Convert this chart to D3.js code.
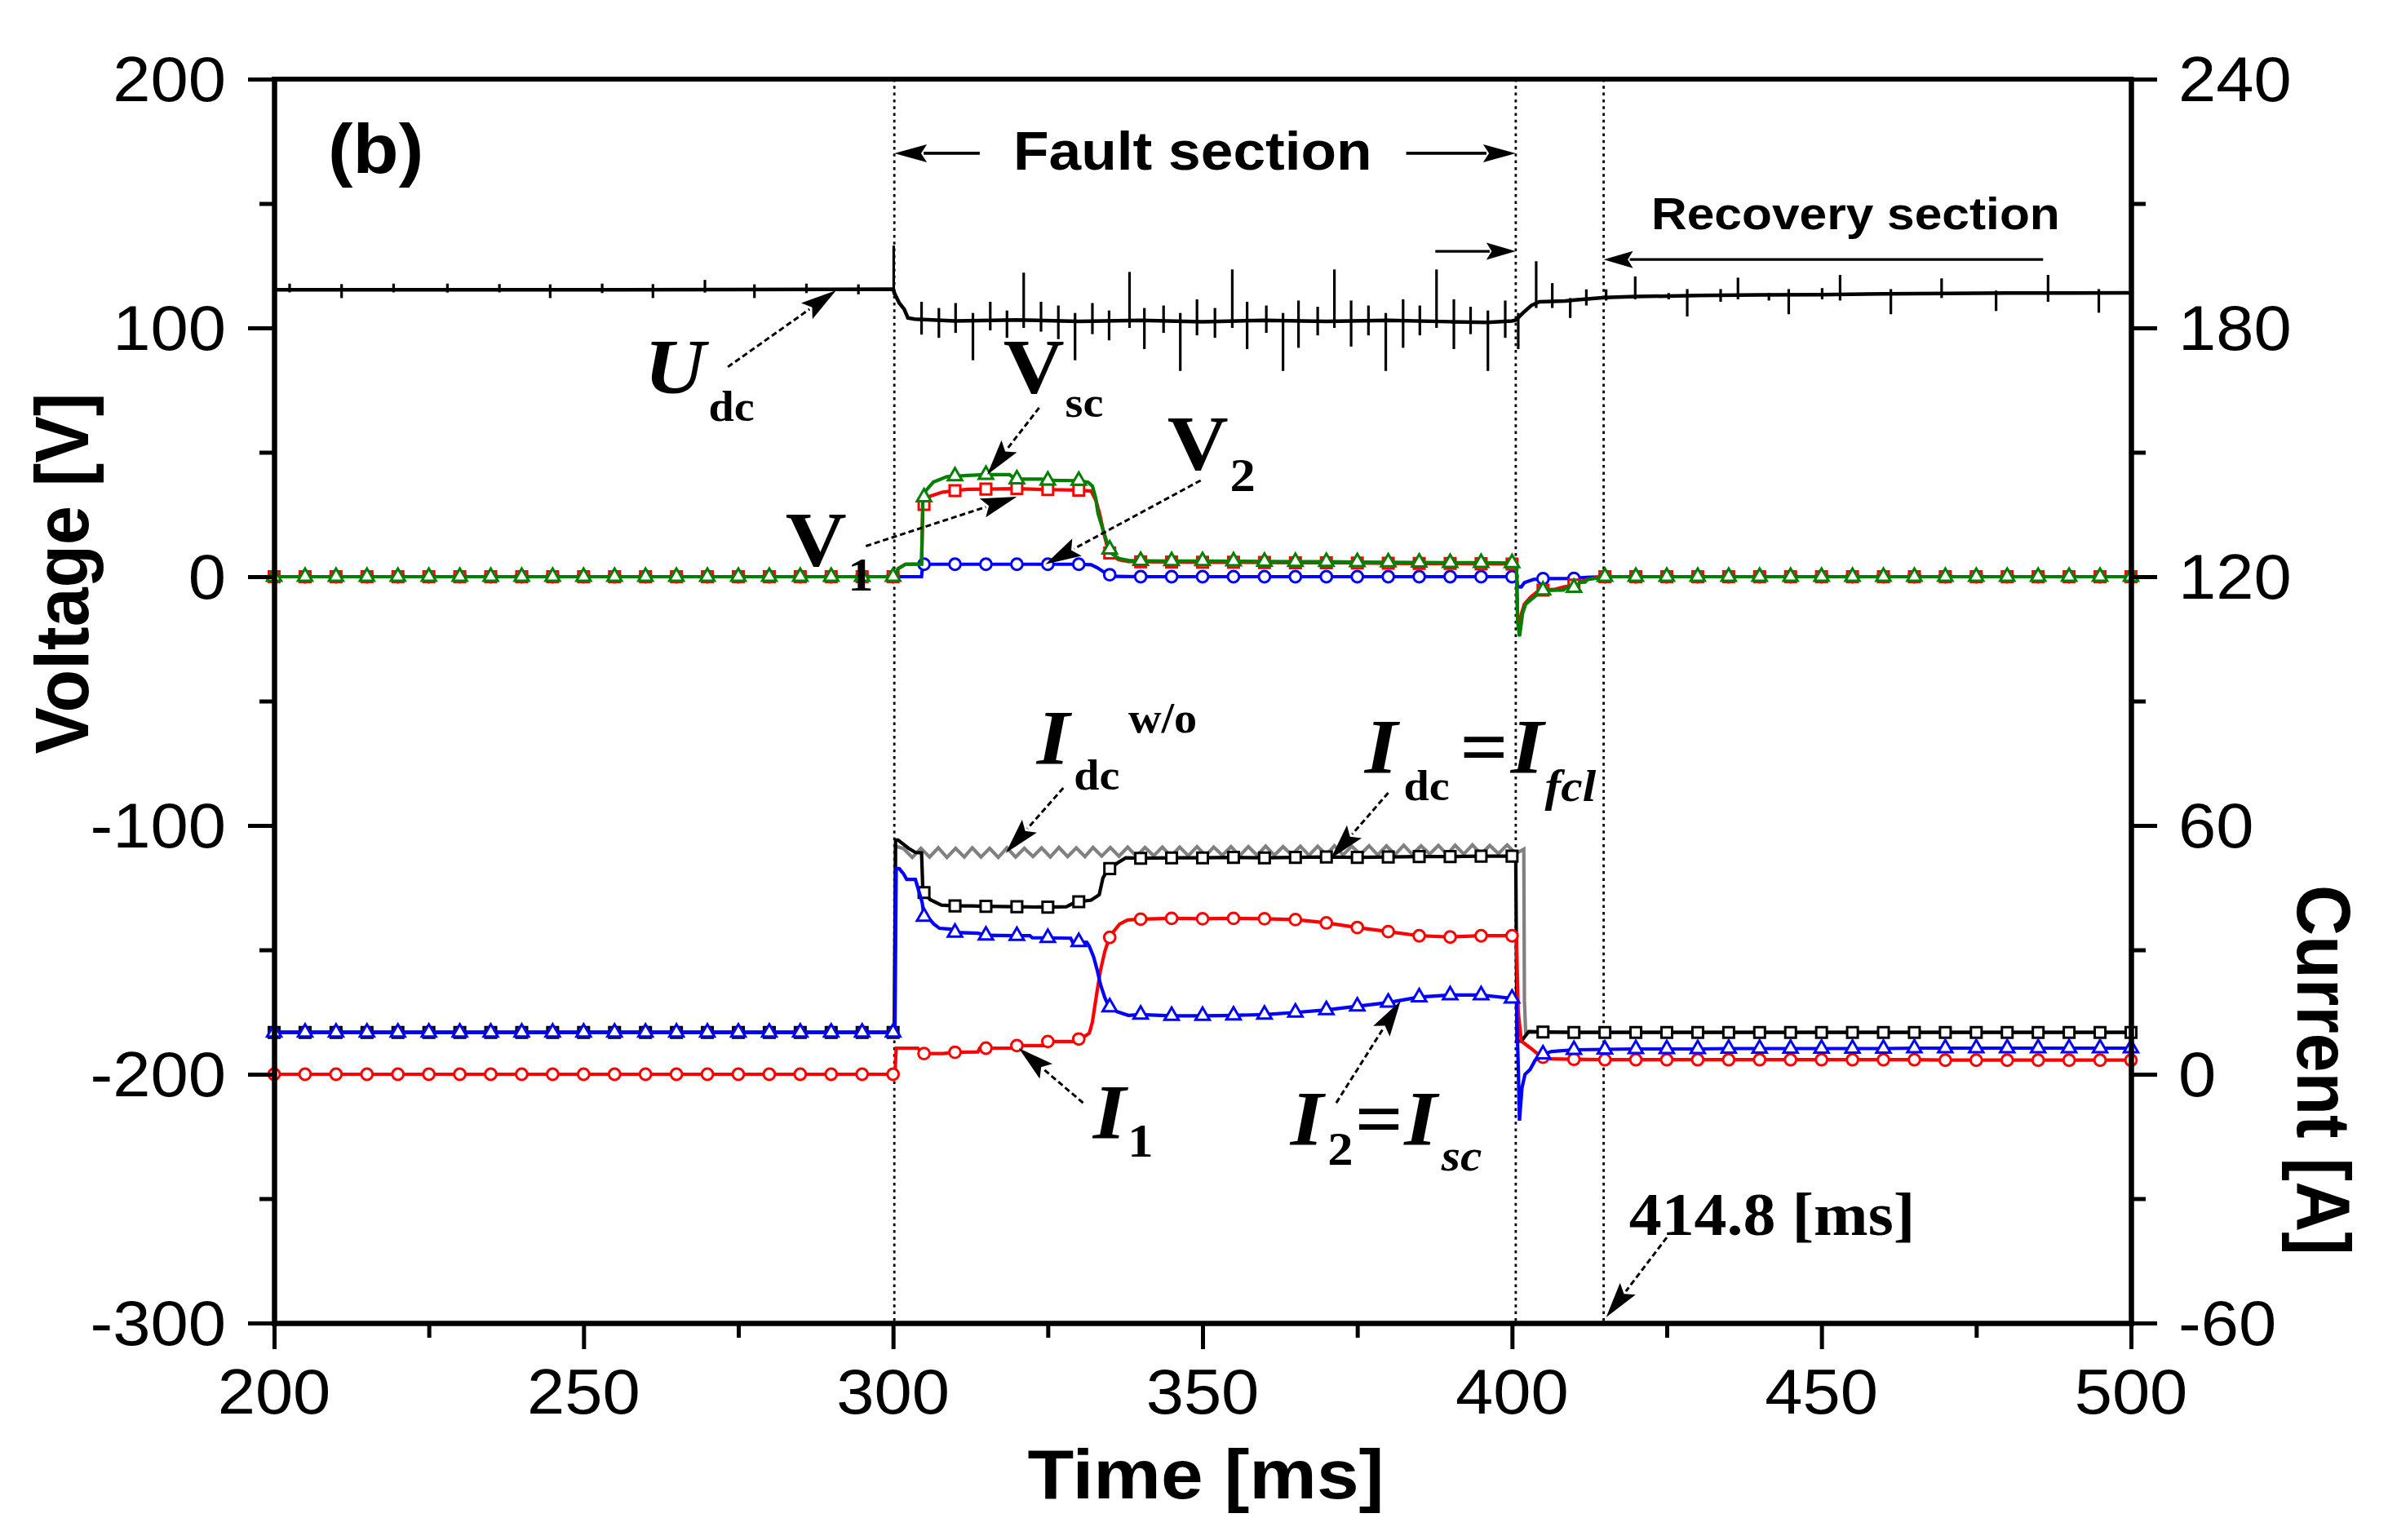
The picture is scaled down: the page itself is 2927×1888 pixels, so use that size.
<!DOCTYPE html>
<html><head><meta charset="utf-8">
<script src="https://cdn.jsdelivr.net/npm/d3@7"></script>
<style>body{margin:0;background:#fff} svg{display:block}</style>
</head><body>
<svg id="chart" width="2927" height="1888"></svg>
<script>
// ---------- tick values ----------
const xTicks = [200,250,300,350,400,450,500];
const xMinor = [225,275,325,375,425,475];
const yLeftTicks = [200,100,0,-100,-200,-300];
const yLeftMinor = [150,50,-50,-150,-250];
const yRightTicks = [240,180,120,60,0,-60];
const yRightMinor = [210,150,90,30,-30];
const sectionLines = [300.2, 400.6, 414.8];

// ---------- voltage series [time ms, V] ----------
const udcBase = [[200,115.3],[250,115.3],[290,115.5],[300.0,115.6],[300.3,113.5],[301,110],[301.8,107.5],[302.4,104],[303.5,103.5],[310,102.8],[320,103.2],[330,102.6],[340,103],[350,102.5],[360,103],[370,102.6],[380,103],[390,102.5],[396,102.2],[400,102.8],[400.6,103.1],[401.8,106.1],[403.1,109],[404.4,110.5],[408.6,110.8],[410.2,111.2],[415,112.2],[420,112.6],[430,113],[440,113.3],[450,113.4],[460,113.7],[480,114],[500,114.1]];
// spikes on Udc: [time, high, low]
const udcSpikes = [[202.5,117.8,114.3],[210.9,117.6,112.0],[219.3,117.8,114.3],[228.0,117.8,114.2],[236.4,117.6,114.3],[244.6,117.5,112.0],[253.0,117.8,114.0],[261.2,117.6,112.0],[269.6,119.3,114.2],[277.6,117.5,112.0],[286.0,117.8,114.0],[294.4,117.5,113.5],
[300.1,133.1,113.4],
[304.6,110.5,97.3],[307.4,108.0,96.0],[310.1,110.0,98.0],[312.9,106.0,87.0],[315.7,110.5,99.0],[318.4,107.0,96.0],[321.1,122.2,100.0],[323.9,110.5,98.5],[326.7,109.0,95.5],[329.4,106.0,87.0],[332.2,110.0,97.5],[334.9,107.0,95.0],[338.2,122.5,100.0],[340.6,108.0,91.5],[343.7,109.0,98.0],[346.4,106.0,82.7],[349.1,111.5,97.0],[352.0,108.0,96.0],[354.8,123.5,100.0],[357.2,110.5,91.5],[360.3,109.0,98.0],[363.0,106.0,82.7],[365.5,111.0,92.0],[368.6,108.5,97.0],[371.3,123.5,100.0],[374.0,111.0,92.5],[376.8,109.0,97.0],[379.6,106.0,82.7],[382.4,111.5,92.0],[385.1,109.0,97.0],[387.8,123.5,100.0],[390.6,111.5,91.5],[393.3,108.5,97.5],[396.1,107.0,82.7],[398.9,111.0,96.0],[401.0,106.0,91.5],
[403.9,126.8,108.0],[406.5,118.0,108.0],[409.4,112.0,104.0],[412.0,115.5,109.0],[415.2,115.5,111.0],[419.9,120.7,111.5],[425.3,114.0,111.5],[428.3,115.6,104.6],[433.7,115.6,110.5],[436.5,120.2,111.5],[441.5,114.0,111.0],[444.7,115.6,105.5],[450.1,116.0,111.5],[453.0,121.3,111.0],[461.2,115.6,105.5],[469.4,119.9,112.0],[478.2,115.0,106.8],[486.6,121.3,110.5],[494.8,115.6,106.1]];

const v1 = [[200,0],[205,0],[210,0],[215,0],[220,0],[225,0],[230,0],[235,0],[240,0],[245,0],[250,0],[255,0],[260,0],[265,0],[270,0],[275,0],[280,0],[285,0],[290,0],[295,0],[300,0],
[300.4,0.5],[300.8,3.2],[302,5],[304.6,5],[304.8,27.5],[305,29],[306,32.4],[308,34],[310,34.6],[312,35.1],[315,35.2],[320,35.4],[325,35],[330,34.8],[332,34.4],[332.8,30.5],[333.4,25],[334,18],[334.6,12],[335,9.5],[335.5,8.2],[336.5,6.8],[338,6.1],[340,6],[345,5.9],[350,5.8],[355,5.8],[360,5.7],[365,5.6],[370,5.6],[375,5.5],[380,5.4],[385,5.3],[390,5.3],[395,5.2],[400,5.1],
[400.7,5],[400.9,-16],[401.2,-20.5],[401.5,-15],[402,-11],[403,-8.2],[404,-6.2],[405,-5.4],[407,-5],[408.5,-4],[410,-3.4],[411,-2.2],[412,-1.2],[413.5,-0.4],[415,0],[420,0],[425,0],[430,0],[435,0],[440,0],[445,0],[450,0],[455,0],[460,0],[465,0],[470,0],[475,0],[480,0],[485,0],[490,0],[495,0],[500,0]];

const v2 = [[200,0],[205,0],[210,0],[215,0],[220,0],[225,0],[230,0],[235,0],[240,0],[245,0],[250,0],[255,0],[260,0],[265,0],[270,0],[275,0],[280,0],[285,0],[290,0],[295,0],[300,0],
[304.6,0],[304.8,5],[305,5],[310,5],[315,5],[320,5],[325,5],[330,5],[332,4.8],[333,3.6],[334,2],[335,0.8],[336,0.1],[340,0],[345,0],[350,0],[355,0],[360,0],[365,0],[370,0],[375,0],[380,0],[385,0],[390,0],[395,0],[400,0],
[400.7,0],[400.9,-4],[401.5,-4.1],[402,-2.4],[403.5,-1.1],[405,-0.8],[410,-0.7],[412,-0.3],[415,0],[420,0],[425,0],[430,0],[435,0],[440,0],[445,0],[450,0],[455,0],[460,0],[465,0],[470,0],[475,0],[480,0],[485,0],[490,0],[495,0],[500,0]];

const vsc = [[200,0],[205,0],[210,0],[215,0],[220,0],[225,0],[230,0],[235,0],[240,0],[245,0],[250,0],[255,0],[260,0],[265,0],[270,0],[275,0],[280,0],[285,0],[290,0],[295,0],[300,0],
[300.4,0.5],[300.8,3.2],[302,5],[304.6,5.1],[304.8,30],[305,32],[305.2,34.3],[306.5,38],[308.7,40.2],[310,40.4],[312,40.7],[315,41],[318.8,41],[319.7,39.3],[320,39.2],[324,39.2],[325,38.7],[330,38.6],[331.5,38],[332.2,36.4],[332.7,32],[333.1,25.5],[333.9,19],[334.6,13.5],[335,11],[335.4,9.2],[336.5,7.3],[338.1,6.5],[340,6.4],[345,6.3],[350,6.3],[355,6.2],[360,6.1],[365,6],[370,6],[375,5.9],[380,5.8],[385,5.7],[390,5.6],[395,5.6],[400,5.5],
[400.7,5.3],[400.9,-18],[401.2,-24],[401.4,-20.5],[401.7,-14.8],[402.2,-11],[403.5,-8.3],[404.8,-5.5],[405,-5.5],[408.3,-5.4],[408.7,-4.5],[410,-4.4],[410.5,-4.4],[410.9,-2.3],[411.8,-2.2],[412.2,-1.1],[414,-0.5],[415,0],[420,0],[425,0],[430,0],[435,0],[440,0],[445,0],[450,0],[455,0],[460,0],[465,0],[470,0],[475,0],[480,0],[485,0],[490,0],[495,0],[500,0]];

// ---------- current series [time ms, A] ----------
const idc = [[200,10.1],[205,10.1],[210,10.1],[215,10.1],[220,10.1],[225,10.1],[230,10.1],[235,10.1],[240,10.1],[245,10.1],[250,10.1],[255,10.1],[260,10.1],[265,10.1],[270,10.1],[275,10.1],[280,10.1],[285,10.1],[290,10.1],[295,10.1],[300,10.1],
[300.2,10.1],[300.4,56.5],[300.8,56.5],[302.5,54.5],[303.6,53.5],[304.6,53.4],[304.8,44.7],[305,43.8],[306,42.1],[307.8,40.8],[310,40.6],[312.6,40.6],[315,40.5],[320,40.4],[325,40.3],[328,40.4],[329.3,41.4],[330,41.6],[332,42],[333.3,43.3],[333.9,47.3],[334.6,49.2],[335,49.6],[336.3,51],[337.6,52.2],[340,52.1],[345,52.2],[350,52.2],[355,52.3],[360,52.2],[365,52.3],[370,52.4],[375,52.3],[380,52.4],[385,52.5],[390,52.5],[395,52.6],[400,52.6],
[400.6,52.6],[400.8,8],[401.5,8],[402.7,10.3],[405,10.2],[410,10.1],[415,10.1],[420,10.1],[425,10.1],[430,10.1],[435,10.1],[440,10.1],[445,10.1],[450,10.1],[455,10.1],[460,10.1],[465,10.1],[470,10.1],[475,10.1],[480,10.1],[485,10.1],[490,10.1],[495,10.1],[500,10.1]];

const idcWo = [[200,10.1],[300.2,10.1],[300.4,55],[301.7,54.4],[303.1,52.3],[304.5,54.5],[305.9,52.4],[307.3,54.6],[308.7,52.3],[310.1,54.5],[311.5,52.4],[312.8,54.6],[314.2,52.4],[315.6,54.5],[317.0,52.3],[318.4,54.6],[319.8,52.4],[321.2,54.5],[322.6,52.5],[324.0,54.6],[325.4,52.4],[326.8,54.7],[328.2,52.5],[329.6,54.6],[331.0,52.5],[332.3,54.7],[333.7,52.6],[335.1,54.7],[336.5,52.6],[337.9,54.8],[339.3,52.6],[340.7,54.7],[342.1,52.7],[343.5,54.8],[344.9,52.6],[346.3,54.8],[347.7,52.7],[349.1,54.9],[350.5,52.7],[351.8,54.8],[353.2,52.8],[354.6,54.9],[356.0,52.7],[357.4,54.9],[358.8,52.8],[360.2,55.0],[361.6,52.8],[363.0,54.9],[364.4,52.9],[365.8,55.0],[367.2,52.8],[368.6,55.0],[370.0,52.9],[371.3,55.1],[372.7,52.9],[374.1,55.0],[375.5,53.0],[376.9,55.1],[378.3,52.9],[379.7,55.1],[381.1,53.0],[382.5,55.2],[383.9,53.0],[385.3,55.1],[386.7,53.1],[388.1,55.2],[389.5,53.0],[390.8,55.2],[392.2,53.1],[393.6,55.3],[395.0,53.1],[396.4,55.2],[397.8,53.2],[399.2,55.3],[400.6,53.2],[401.9,54.3],[402.0,17.7],[402.2,10.1],[500,10.1]];

const i1 = [[200,0],[205,0],[210,0],[215,0],[220,0],[225,0],[230,0],[235,0],[240,0],[245,0],[250,0],[255,0],[260,0],[265,0],[270,0],[275,0],[280,0],[285,0],[290,0],[295,0],[300,0],
[300.3,0],[300.5,6.3],[304,6.3],[304.8,5],[305,5],[308,5],[310,5.3],[313.7,5.4],[314,6.3],[315,6.3],[319.4,6.3],[320,6.9],[324.7,6.9],[325,7.9],[329.1,7.9],[330,8.5],[330.4,8.6],[331.7,9.9],[332.2,12.6],[332.6,16.5],[333,20.4],[333.5,25],[334.2,29.6],[334.8,32.3],[335,33],[335.5,34.2],[336.6,36.2],[337.9,37.2],[340,37.4],[345,37.6],[350,37.5],[355,37.6],[360,37.5],[365,37.3],[370,36.5],[375,35.4],[380,34.4],[385,33.4],[390,33.1],[395,33.4],[400,33.4],
[400.7,33],[401,15],[401.5,8],[403,6.3],[404.4,4.6],[405,4.1],[406,3.7],[410,3.6],[415,3.5],[420,3.5],[425,3.5],[430,3.5],[435,3.5],[440,3.5],[445,3.5],[450,3.5],[455,3.5],[460,3.5],[465,3.5],[470,3.4],[475,3.4],[480,3.4],[485,3.4],[490,3.4],[495,3.4],[500,3.4]];

const i2 = [[200,10.1],[205,10.1],[210,10.1],[215,10.1],[220,10.1],[225,10.1],[230,10.1],[235,10.1],[240,10.1],[245,10.1],[250,10.1],[255,10.1],[260,10.1],[265,10.1],[270,10.1],[275,10.1],[280,10.1],[285,10.1],[290,10.1],[295,10.1],[300,10.1],
[300.3,10.1],[300.5,49.6],[301,49.6],[301.7,48.3],[302.2,47],[303.6,47],[304.7,41.4],[305,38],[305.9,37.4],[306.6,36.2],[307.5,35.2],[309.3,35.0],[310,34.2],[313.7,34.0],[315,33.5],[320,33.4],[322.1,33.4],[322.5,32.9],[325,32.9],[328.7,32.8],[329,31.9],[330,31.9],[331.3,31.8],[331.7,30.9],[332.4,28.3],[333,25],[333.5,21.7],[334.2,18.5],[334.8,16.5],[335,16.2],[336.2,15.1],[338,14.2],[340,14.4],[345,14.1],[350,14.1],[355,14.2],[360,14.4],[365,14.9],[370,15.5],[375,16.4],[380,17.3],[385,18.6],[390,19.1],[395,19.1],[400,18.3],
[400.7,17.9],[401,2],[401.2,-11.2],[401.6,-3.3],[402.1,0],[402.9,1.1],[403.7,3.3],[404.8,4.6],[405,4.8],[406.4,5.5],[410,5.9],[415,6],[420,6.1],[425,6.1],[430,6.1],[435,6.2],[440,6.2],[445,6.2],[450,6.2],[455,6.2],[460,6.2],[465,6.3],[470,6.3],[475,6.3],[480,6.3],[485,6.3],[490,6.3],[495,6.3],[500,6.3]];

// ---------- layout ----------
const W = 2927, H = 1888;
const M = {left:336, right:2612, top:97, bottom:1622};
const SANS = "'Liberation Sans', Arial, sans-serif";
const SERIF = "'Liberation Serif', 'Times New Roman', serif";
const SX = 1.08;

const x = d3.scaleLinear().domain([200,500]).range([M.left, M.right]);
const yL = d3.scaleLinear().domain([-300,200]).range([M.bottom, M.top]);
const yR = d3.scaleLinear().domain([-60,240]).range([M.bottom, M.top]);

const svg = d3.select('#chart');
svg.append('rect').attr('width', W).attr('height', H).attr('fill', '#fff');

function htext(px, py, str, o) {
  return svg.append('text')
    .attr('transform', `translate(${px},${py}) scale(${o.sx || SX},1)`)
    .attr('font-family', o.family || SANS)
    .attr('font-size', o.size)
    .attr('font-weight', o.weight || 'normal')
    .attr('font-style', o.style || 'normal')
    .attr('text-anchor', o.anchor || 'start')
    .attr('fill', '#000')
    .text(str);
}

// section dotted lines
svg.append('g').selectAll('line').data(sectionLines).join('line')
  .attr('x1', d => x(d)).attr('x2', d => x(d))
  .attr('y1', M.top).attr('y2', M.bottom)
  .attr('stroke', '#000').attr('stroke-width', 2.8).attr('stroke-dasharray', '3.5,4.8');

// series drawing
function drawSeries(data, yScale, color, symbol, symSize) {
  const line = d3.line().x(d => x(d[0])).y(d => yScale(d[1]));
  svg.append('path').datum(data).attr('d', line)
    .attr('fill', 'none').attr('stroke', color).attr('stroke-width', 4.2)
    .attr('stroke-linejoin', 'miter');
  if (symbol) {
    const pts = data.filter(d => Math.abs(d[0] / 5 - Math.round(d[0] / 5)) < 1e-6);
    svg.append('g').selectAll('path').data(pts).join('path')
      .attr('transform', d => `translate(${x(d[0])},${yScale(d[1])})`)
      .attr('d', d3.symbol().type(symbol).size(symSize))
      .attr('fill', '#fff').attr('stroke', color).attr('stroke-width', 3);
  }
}

// Udc
svg.append('path').datum(udcBase)
  .attr('d', d3.line().x(d => x(d[0])).y(d => yL(d[1])))
  .attr('fill', 'none').attr('stroke', '#000').attr('stroke-width', 4.5);
svg.append('g').selectAll('line').data(udcSpikes).join('line')
  .attr('x1', d => x(d[0])).attr('x2', d => x(d[0]))
  .attr('y1', d => yL(d[1])).attr('y2', d => yL(d[2]))
  .attr('stroke', '#000').attr('stroke-width', 3.2);

drawSeries(v2, yL, '#0000ff', d3.symbolCircle, 150);
drawSeries(v1, yL, '#ff0000', d3.symbolSquare, 170);
drawSeries(vsc, yL, '#008000', d3.symbolTriangle, 130);
drawSeries(idcWo, yR, '#808080', null, 0);
drawSeries(idc, yR, '#000000', d3.symbolSquare, 170);
drawSeries(i1, yR, '#ff0000', d3.symbolCircle, 150);
drawSeries(i2, yR, '#0000ff', d3.symbolTriangle, 130);

// ---------- arrows ----------
function arrow(t1, v1_, t2, v2_, o) {
  const x1 = x(t1), y1 = yL(v1_), x2 = x(t2), y2 = yL(v2_);
  const dx = x2 - x1, dy = y2 - y1, len = Math.hypot(dx, dy);
  const ux = dx / len, uy = dy / len, nx = -uy, ny = ux;
  const L = o.L, w = o.w;
  const bx = x2 - ux * L, by = y2 - uy * L;
  svg.append('line').attr('x1', x1).attr('y1', y1).attr('x2', bx + ux * 4).attr('y2', by + uy * 4)
    .attr('stroke', '#000').attr('stroke-width', o.sw)
    .attr('stroke-dasharray', o.dash || null);
  svg.append('path')
    .attr('d', `M${x2},${y2}L${bx + nx * w},${by + ny * w}L${bx + ux * L * 0.18},${by + uy * L * 0.18}L${bx - nx * w},${by - ny * w}Z`)
    .attr('fill', '#000');
}
const dashA = {L: 44, w: 12, sw: 3, dash: '7,4'};
const solidA = {L: 40, w: 11, sw: 3.8};

arrow(314.0, 170.2, 300.2, 170.2, solidA);
arrow(382.9, 170.2, 400.6, 170.2, solidA);
arrow(387.6, 130.8, 400.6, 130.8, {L: 36, w: 10.5, sw: 3.2});
arrow(485.8, 127.5, 414.8, 127.5, {L: 36, w: 10.5, sw: 3.2});
arrow(273.3, 84.3, 290.8, 115.1, dashA);
arrow(323.6, 67.9, 315.2, 41.0, dashA);
arrow(349.7, 38.7, 324.6, 5.0, dashA);
arrow(295.6, 12.3, 320.0, 32.1, dashA);
arrow(327.5, -84.9, 318.2, -111.1, dashA);
arrow(380.0, -86.9, 370.7, -113.4, dashA);
arrow(330.7, -211.5, 320.3, -189.5, dashA);
arrow(371.6, -211.5, 382.0, -170.5, dashA);
arrow(425.0, -265.6, 415.2, -297.7, dashA);

// ---------- annotation texts ----------
const BIG = 96, SUB = 52;
htext(x(208.7), yL(162.3), '(b)', {size: 85, weight: 'bold'});
htext(x(348.4), yL(163.6), 'Fault section', {size: 66, weight: 'bold', anchor: 'middle'});
htext(x(455.5), yL(139.7), 'Recovery section', {size: 56, weight: 'bold', anchor: 'middle'});

// U_dc
htext(x(259.8), yL(73.8), 'U', {family: SERIF, size: BIG, weight: 'bold', style: 'italic'});
htext(x(270.2), yL(62.6), 'dc', {family: SERIF, size: SUB, weight: 'bold'});
// V_sc
htext(x(317.8), yL(73.8), 'V', {family: SERIF, size: BIG, weight: 'bold'});
htext(x(327.8), yL(64.3), 'sc', {family: SERIF, size: SUB, weight: 'bold'});
// V_2
htext(x(344.3), yL(43.0), 'V', {family: SERIF, size: BIG, weight: 'bold'});
htext(x(354.4), yL(34.4), '2', {family: SERIF, size: 58, weight: 'bold'});
// V_1
htext(x(282.6), yL(4.3), 'V', {family: SERIF, size: BIG, weight: 'bold'});
htext(x(292.7), yL(-5.6), '1', {family: SERIF, size: 58, weight: 'bold'});
// I_dc^w/o
htext(x(323.2), yL(-75.4), 'I', {family: SERIF, size: BIG, weight: 'bold', style: 'italic'});
htext(x(329.2), yL(-85.6), 'dc', {family: SERIF, size: SUB, weight: 'bold'});
htext(x(338.0), yL(-62.6), 'w/o', {family: SERIF, size: SUB, weight: 'bold'});
// I_dc = I_fcl
htext(x(376.2), yL(-79.0), 'I', {family: SERIF, size: BIG, weight: 'bold', style: 'italic'});
htext(x(382.5), yL(-89.8), 'dc', {family: SERIF, size: SUB, weight: 'bold'});
htext(x(391.6), yL(-79.0), '=', {family: SERIF, size: BIG, weight: 'bold'});
htext(x(399.8), yL(-79.0), 'I', {family: SERIF, size: BIG, weight: 'bold', style: 'italic'});
htext(x(405.3), yL(-90.0), 'fcl', {family: SERIF, size: 55, weight: 'bold', style: 'italic'});
// I_1
htext(x(332.3), yL(-225.9), 'I', {family: SERIF, size: BIG, weight: 'bold', style: 'italic'});
htext(x(337.9), yL(-233.1), '1', {family: SERIF, size: 58, weight: 'bold'});
// I_2 = I_sc
htext(x(364.2), yL(-228.5), 'I', {family: SERIF, size: BIG, weight: 'bold', style: 'italic'});
htext(x(370.2), yL(-236.4), '2', {family: SERIF, size: 58, weight: 'bold'});
htext(x(374.6), yL(-228.5), '=', {family: SERIF, size: BIG, weight: 'bold'});
htext(x(382.6), yL(-228.5), 'I', {family: SERIF, size: BIG, weight: 'bold', style: 'italic'});
htext(x(388.6), yL(-238.7), 'sc', {family: SERIF, size: 55, weight: 'bold', style: 'italic'});
// 414.8 [ms]
htext(x(418.9), yL(-264.6), '414.8 [ms]', {family: SERIF, size: 74, weight: 'bold'});

// ---------- axes ----------
function styleAxis(g) {
  g.selectAll('path.domain').attr('stroke', '#000').attr('stroke-width', 6).attr('stroke-linecap', 'square');
  g.selectAll('.tick line').attr('stroke', '#000').attr('stroke-width', 5);
  g.selectAll('.tick text').remove();
}
const gL = svg.append('g').attr('transform', `translate(${M.left},0)`);
gL.append('g').call(d3.axisLeft(yL).tickValues(yLeftTicks).tickSize(32).tickSizeOuter(0)).call(styleAxis);
gL.append('g').call(d3.axisLeft(yL).tickValues(yLeftMinor).tickSize(18).tickSizeOuter(0)).call(styleAxis);

const gR = svg.append('g').attr('transform', `translate(${M.right},0)`);
gR.append('g').call(d3.axisRight(yR).tickValues(yRightTicks).tickSize(32).tickSizeOuter(0)).call(styleAxis);
gR.append('g').call(d3.axisRight(yR).tickValues(yRightMinor).tickSize(18).tickSizeOuter(0)).call(styleAxis);

const gB = svg.append('g').attr('transform', `translate(0,${M.bottom})`);
gB.append('g').call(d3.axisBottom(x).tickValues(xTicks).tickSize(32).tickSizeOuter(0)).call(styleAxis);
gB.append('g').call(d3.axisBottom(x).tickValues(xMinor).tickSize(18).tickSizeOuter(0)).call(styleAxis);

// top frame line
svg.append('line').attr('x1', x(200)).attr('x2', x(500)).attr('y1', yL(200)).attr('y2', yL(200))
  .attr('stroke', '#000').attr('stroke-width', 6).attr('stroke-linecap', 'square');

// tick labels
const TL = 77;
yLeftTicks.forEach(v => htext(M.left - 59, yL(v) + TL * 0.35, String(v), {size: TL, anchor: 'end'}));
yRightTicks.forEach(v => htext(M.right + 58, yR(v) + TL * 0.35, String(v), {size: TL, anchor: 'start'}));
xTicks.forEach(v => htext(x(v), 1733, String(v), {size: TL, anchor: 'middle'}));

// axis titles
htext((M.left + M.right) / 2 + 4, 1837, 'Time [ms]', {size: 86, weight: 'bold', anchor: 'middle'});
svg.append('text').attr('transform', 'translate(108,703) rotate(-90) scale(1,1.08)')
  .attr('font-family', SANS).attr('font-size', 86).attr('font-weight', 'bold')
  .attr('text-anchor', 'middle').text('Voltage [V]');
svg.append('text').attr('transform', 'translate(2816,1312) rotate(90) scale(1,1.08)')
  .attr('font-family', SANS).attr('font-size', 86).attr('font-weight', 'bold')
  .attr('text-anchor', 'middle').text('Current [A]');
</script>
</body></html>
